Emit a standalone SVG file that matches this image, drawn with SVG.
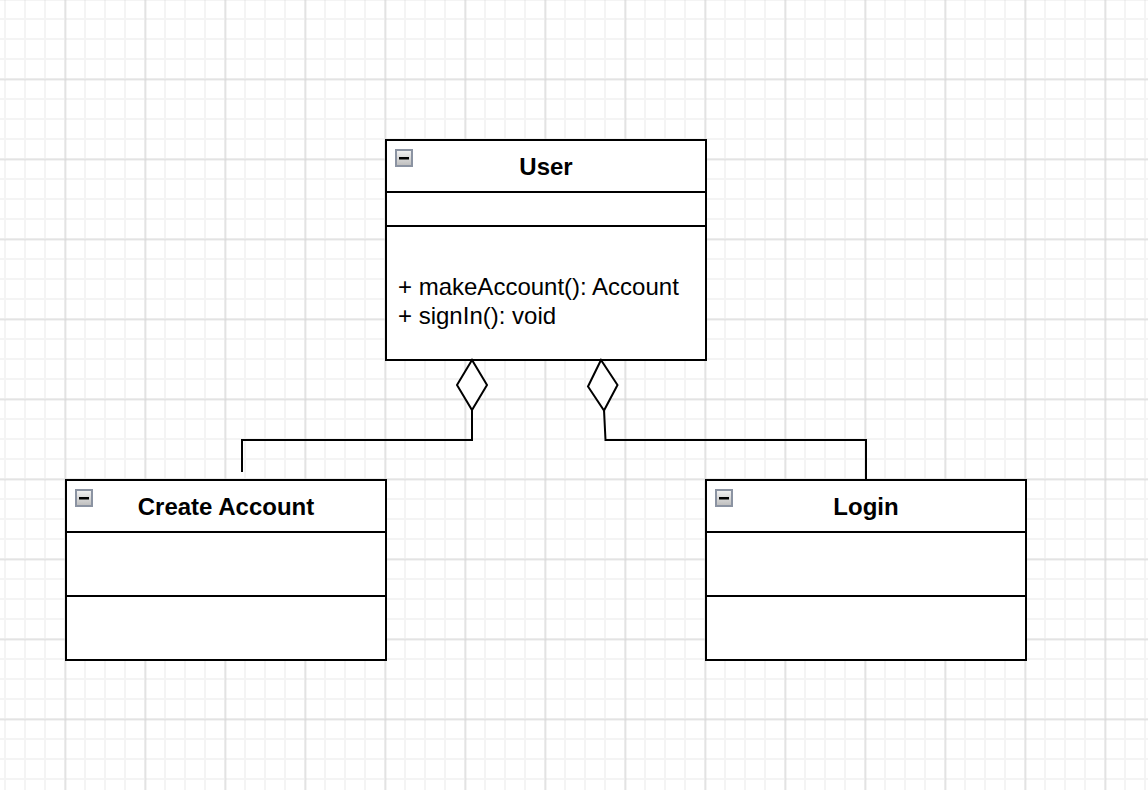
<svg xmlns="http://www.w3.org/2000/svg" width="1148" height="790" viewBox="0 0 1148 790">
  <defs>
    <pattern id="gridMinor" patternUnits="userSpaceOnUse" x="-5" y="9" width="20" height="20">
      <path d="M10 0V20M0 10H20" stroke="#f4f4f4" stroke-width="2" fill="none"/>
    </pattern>
    <pattern id="gridMajor" patternUnits="userSpaceOnUse" x="25.5" y="39.5" width="80" height="80">
      <path d="M40 0V80M0 40H80" stroke="#d2d2d2" stroke-width="1" fill="none"/>
    </pattern>
    <linearGradient id="toggleFill" x1="0" y1="0" x2="0" y2="1">
      <stop offset="0" stop-color="#f4f4f4"/>
      <stop offset="1" stop-color="#bcbcbc"/>
    </linearGradient>
    <!-- collapse toggle shown in each class header -->
    <g id="toggle">
      <rect x="0" y="0" width="16" height="16" fill="url(#toggleFill)" stroke="#8b93a2" stroke-width="2"/>
      <rect x="3" y="7" width="10" height="2.5" fill="#000"/>
    </g>
  </defs>
  <style>
    .box { fill: #ffffff; stroke: #000000; stroke-width: 2; }
    .div { stroke: #000000; stroke-width: 2; fill: none; }
    .title { font-family: "Liberation Sans", Arial, sans-serif; font-size: 24px; font-weight: bold; fill: #000; text-anchor: middle; }
    .member { font-family: "Liberation Sans", Arial, sans-serif; font-size: 24px; fill: #000; }
    .edge { stroke: #000000; stroke-width: 2; fill: none; }
    .diamond { stroke: #000000; stroke-width: 2; fill: #ffffff; stroke-linejoin: miter; }
  </style>

  <!-- canvas grid -->
  <rect width="1148" height="790" fill="#ffffff"/>
  <rect width="1148" height="790" fill="url(#gridMinor)"/>
  <rect width="1148" height="790" fill="url(#gridMajor)"/>

  <!-- class: User -->
  <g id="user">
    <rect class="box" x="386" y="140" width="320" height="220"/>
    <line class="div" x1="386" y1="192" x2="706" y2="192"/>
    <line class="div" x1="386" y1="226" x2="706" y2="226"/>
    <use href="#toggle" x="396" y="150"/>
    <text class="title" x="546" y="175">User</text>
    <text class="member" x="398" y="295">+ makeAccount(): Account</text>
    <text class="member" x="398" y="324">+ signIn(): void</text>
  </g>

  <!-- class: Create Account -->
  <g id="create-account">
    <rect class="box" x="66" y="480" width="320" height="180"/>
    <line class="div" x1="66" y1="532" x2="386" y2="532"/>
    <line class="div" x1="66" y1="596" x2="386" y2="596"/>
    <use href="#toggle" x="76" y="490"/>
    <text class="title" x="226" y="515">Create Account</text>
  </g>

  <!-- class: Login -->
  <g id="login">
    <rect class="box" x="706" y="480" width="320" height="180"/>
    <line class="div" x1="706" y1="532" x2="1026" y2="532"/>
    <line class="div" x1="706" y1="596" x2="1026" y2="596"/>
    <use href="#toggle" x="716" y="490"/>
    <text class="title" x="866" y="515">Login</text>
  </g>

  <!-- aggregation connectors -->
  <g id="connectors">
    <polyline class="edge" points="472,410 472,440 242,440 242,472"/>
    <polygon class="diamond" points="472,360 457,385 472,410 487,385"/>
    <polyline class="edge" points="604,410 605.5,440 866,440 866,480"/>
    <polygon class="diamond" points="601,360 588,386.5 604,410.5 617.5,385"/>
  </g>
</svg>
